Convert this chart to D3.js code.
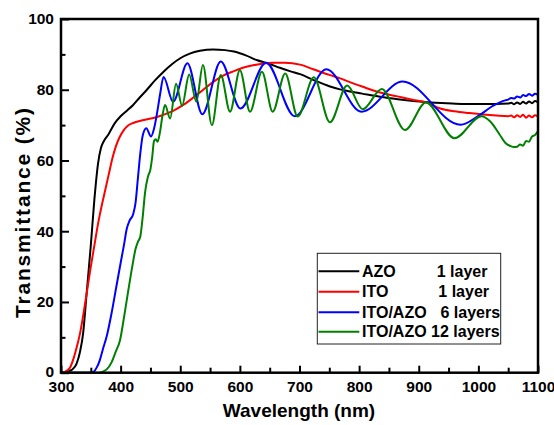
<!DOCTYPE html>
<html>
<head>
<meta charset="utf-8">
<script src="https://cdn.jsdelivr.net/npm/d3@7"></script>
<style>
  html, body { margin: 0; padding: 0; background: #fff; }
  svg { display: block; font-family: "Liberation Sans", Arial, sans-serif; font-weight: bold; }
</style>
</head>
<body>
<svg id="chart" width="554" height="425"></svg>
<script>
// ---------- data ----------
const xMajorTicks = [300, 400, 500, 600, 700, 800, 900, 1000, 1100];
const xMinorTicks = [350, 450, 550, 650, 750, 850, 950, 1050];
const yMajorTicks = [0, 20, 40, 60, 80, 100];
const yMinorTicks = [10, 30, 50, 70, 90];

const seriesNames = ["AZO", "ITO", "ITO/AZO", "ITO/AZO 12 layers"];
const seriesSuffix = ["1 layer", "1 layer", "6 layers", ""];
const seriesColors = ["#000000", "#ff0000", "#0000ff", "#008000"];

const azoWl = [300,310,318,326,332,337,343,350,356,362,367,372,380,390,400,410,421,432,444,458,472,486,500,516,533,555,575,590,610,628,648,667,685,701,723,750,768,779,805,835,865,891,920,947,975,1003,1030,1050,1055,1060,1065,1070,1075,1080,1085,1090,1095,1100];
const azoT  = [0,0.2,0.8,2.5,6,11,22.4,36,49,59,63.5,65.5,67.5,70.5,72.5,74,75.7,77.8,80,82.7,85.1,87.2,88.9,90.2,91,91.4,91.2,90.8,89.7,88.4,87.4,86.2,85.2,84.4,82.8,81,80.1,79.7,78.9,78,77.3,76.8,76.4,76.2,76,76,76,76.1,76.3,75.9,76.4,76,76.6,76.1,76.7,76.2,76.8,76.4];

const itoWl = [300,305,310,315,320,326,332,338,343,350,356,362,368,374,380,386,392,398,405,412,421,435,455,470,488,505,522,540,556,572,589,605,622,640,656,675,701,723,750,768,779,805,835,862,891,911,936,960,985,1008,1030,1050,1055,1060,1065,1070,1075,1080,1085,1090,1095,1100];
const itoT  = [0,0.1,0.6,1.4,3.5,7,11.2,17,22.4,30,36,42,47,51.5,56,60.5,64,66.5,68.5,69.8,70.6,71.3,72,72.8,74,75.7,77.8,80.2,82.3,84,85.2,86.2,86.9,87.4,87.6,87.6,87.1,85.8,84.2,83.2,82.5,80.9,79.2,78.2,77.1,76.5,74.7,73.9,73.4,73,72.7,72.5,72.7,72.2,72.8,72.3,72.9,72.1,72.7,72.2,72.8,72.4];

const l6Wl = [300,350,355,360,365,370,377,385,393,400,406,410,415,421,425,429,433,437,443,451,456,461,466,472,488,512,537,568,601,644,692,745,804,873,970,1000,1025,1045,1050,1055,1060,1065,1070,1075,1080,1085,1090,1095,1100];
const l6T  = [0,0,0.3,1.5,3.5,6.5,10.5,17,24.5,31,36.5,40.5,43,44.8,48,55,62,67,69.1,66.8,69,73.3,78.5,83.6,76.6,87.5,73.1,88,74.7,87.6,72.5,85.8,73.8,82.3,70.1,72.6,75.5,77,77.2,77.7,77.5,78.1,77.8,78.5,78.2,78.8,78.3,78.9,78.5];

const l12Wl = [300,365,370,377,385,392,399,406,413,420,425,429,433,437,441,446,450,453,456,459,462,466,470,474.5,483,493,503,515,527,538,553,568,583.5,600,617,637,655,676,697,724,751,780,806,838,877,912,960,1005,1020,1035,1045,1055,1060,1065,1070,1075,1080,1085,1090,1095,1100];
const l12T  = [0,0,0.3,1,3,6,9.2,16,23.4,30.5,35,37,38.5,44,51,55.5,57.5,61,65.5,66,65.3,68,72.5,75.7,71.9,81.7,75.5,84.3,76.6,87,70,84.2,73.8,85.5,73.8,85.1,73.8,84.6,72.4,83.5,70.8,81.2,74.5,80.2,68.6,76.4,66.3,72.5,71,67.5,65,64,63.8,63.9,64.5,64.2,65.5,65.3,66.8,67.2,68.3];

const seriesWl = [azoWl, itoWl, l6Wl, l12Wl];
const seriesT  = [azoT, itoT, l6T, l12T];

// ---------- layout ----------
const svg = d3.select("#chart");
const pL = 61, pR = 538, pT = 19, pB = 372.7;
const x = d3.scaleLinear().domain([300, 1100]).range([pL, pR]);
const y = d3.scaleLinear().domain([0, 100]).range([pB, pT]);

const line = d3.line()
  .x(d => x(d[0]))
  .y(d => y(d[1]))
  .curve(d3.curveMonotoneX);

svg.append("defs").append("clipPath").attr("id", "clip")
  .append("rect").attr("x", pL).attr("y", pT).attr("width", pR - pL).attr("height", pB - pT);

const gLines = svg.append("g").attr("clip-path", "url(#clip)");
seriesWl.forEach((wl, i) => {
  const pts = wl.map((w, j) => [w, seriesT[i][j]]);
  gLines.append("path")
    .attr("d", line(pts))
    .attr("fill", "none")
    .attr("stroke", seriesColors[i])
    .attr("stroke-width", 2)
    .attr("stroke-linejoin", "round");
});

const tickFont = g => g.selectAll("text")
  .attr("font-size", "15.5px").attr("font-weight", "bold")
  .attr("font-family", '"Liberation Sans", Arial, sans-serif').attr("fill", "#000");

const xAxis = svg.append("g").attr("transform", `translate(0,${pB})`)
  .call(d3.axisBottom(x).tickValues(xMajorTicks).tickSize(-7).tickPadding(8.6).tickFormat(d3.format("d")));
xAxis.select(".domain").remove();
xAxis.selectAll("line").attr("stroke", "#000").attr("stroke-width", 2);
tickFont(xAxis);

const xMinor = svg.append("g").attr("transform", `translate(0,${pB})`)
  .call(d3.axisBottom(x).tickValues(xMinorTicks).tickSize(-5).tickFormat(""));
xMinor.select(".domain").remove();
xMinor.selectAll("line").attr("stroke", "#000").attr("stroke-width", 2);

const yAxis = svg.append("g").attr("transform", `translate(${pL},0)`)
  .call(d3.axisLeft(y).tickValues(yMajorTicks).tickSize(-8).tickPadding(7).tickFormat(d3.format("d")));
yAxis.select(".domain").remove();
yAxis.selectAll("line").attr("stroke", "#000").attr("stroke-width", 2);
tickFont(yAxis);
yAxis.selectAll("text").filter(d => d === 0).attr("dy", "0.26em");

const yMinor = svg.append("g").attr("transform", `translate(${pL},0)`)
  .call(d3.axisLeft(y).tickValues(yMinorTicks).tickSize(-4.5).tickFormat(""));
yMinor.select(".domain").remove();
yMinor.selectAll("line").attr("stroke", "#000").attr("stroke-width", 2);

svg.append("rect")
  .attr("x", pL).attr("y", pT).attr("width", pR - pL).attr("height", pB - pT)
  .attr("fill", "none").attr("stroke", "#000").attr("stroke-width", 2.5);

svg.append("text")
  .attr("x", 299).attr("y", 417)
  .attr("text-anchor", "middle")
  .attr("font-size", "19px").attr("font-weight", "bold")
  .text("Wavelength (nm)");

svg.append("text")
  .attr("transform", "translate(30,213) rotate(-90)")
  .attr("text-anchor", "middle")
  .attr("font-size", "21px").attr("font-weight", "bold")
  .attr("textLength", 210)
  .text("Transmittance (%)");

const legX = 317.3, legY = 253.3, legW = 183.4, legH = 90.7;
const leg = svg.append("g");
leg.append("rect").attr("x", legX).attr("y", legY).attr("width", legW).attr("height", legH)
  .attr("fill", "#fff").attr("stroke", "#222").attr("stroke-width", 1);
const rowBase = [276.7, 297.3, 317.7, 337.3];
const suffixX = [436.7, 438.3, 440.5, 0];
seriesNames.forEach((name, i) => {
  leg.append("line")
    .attr("x1", 318.5).attr("x2", 359.3)
    .attr("y1", rowBase[i] - 5.5).attr("y2", rowBase[i] - 5.5)
    .attr("stroke", seriesColors[i]).attr("stroke-width", 2);
  leg.append("text").attr("x", 362).attr("y", rowBase[i])
    .attr("font-size", "16px").attr("font-weight", "bold").text(name);
  if (seriesSuffix[i]) {
    leg.append("text").attr("x", suffixX[i]).attr("y", rowBase[i])
      .attr("font-size", "16px").attr("font-weight", "bold").text(seriesSuffix[i]);
  }
});
</script>
</body>
</html>
